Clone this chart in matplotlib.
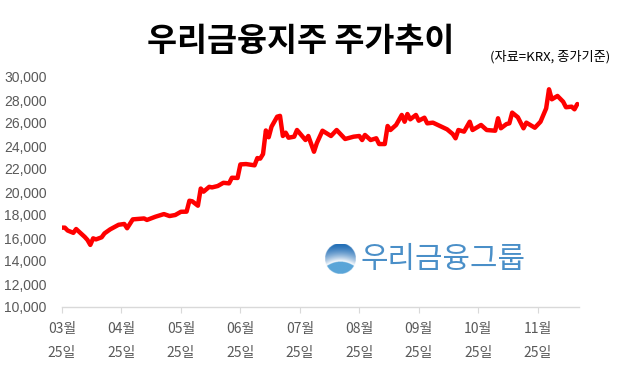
import numpy as np
import matplotlib
matplotlib.use("Agg")
import matplotlib.pyplot as plt
from matplotlib.colors import to_rgb

# trading-day index (from 03/25) and closing price
days = [0, 1, 2, 4, 5, 6, 8, 9, 10, 11, 12, 14, 15, 17, 20, 22, 23, 25, 29, 30,
        33, 36, 38, 40, 42, 44, 45, 46, 48, 49, 50, 52, 53, 55, 57, 59, 60, 62, 63, 65,
        68, 69, 70, 71, 72, 73, 74, 76, 77, 78, 79, 80, 82, 83, 86, 87, 89, 90, 92, 95,
        97, 100, 103, 105, 106, 107, 109, 111, 112, 114, 115, 116, 118, 120, 121, 122, 123, 125, 126, 128,
        129, 131, 136, 138, 139, 140, 142, 144, 145, 148, 150, 153, 154, 155, 157, 158, 159, 161, 163, 164,
        167, 169, 171, 172, 173, 175, 177, 178, 180, 181, 182]
close = [16900, 16900, 16650, 16450, 16780, 16550, 16100, 15830, 15400, 15970, 15880, 16060, 16400, 16750, 17150, 17220, 16850, 17620, 17700, 17570,
         17850, 18080, 17910, 18000, 18280, 18290, 19240, 19190, 18810, 20300, 20030, 20450, 20400, 20520, 20800, 20750, 21240, 21220, 22400, 22430,
         22320, 22950, 22900, 23300, 25350, 24760, 25680, 26550, 26620, 24870, 25160, 24720, 24810, 25390, 24520, 24870, 23500, 24250, 25330, 24870,
         25390, 24610, 24810, 24870, 24520, 24960, 24520, 24670, 24170, 24170, 25740, 25390, 25830, 26700, 26110, 26780, 26320, 26700, 26200, 26460,
         25970, 26030, 25450, 25040, 24670, 25390, 25250, 26110, 25390, 25830, 25390, 25330, 26410, 25540, 25910, 25970, 26900, 26500, 25540, 26030,
         25590, 26110, 27270, 28930, 28060, 28350, 27850, 27370, 27420, 27190, 27650]

tick_days = [0, 21, 42, 63, 84, 105, 126, 147, 168]
tick_labels = ["03월\n25일", "04월\n25일", "05월\n25일", "06월\n25일", "07월\n25일",
               "08월\n25일", "09월\n25일", "10월\n25일", "11월\n25일"]
y_ticks = list(range(10000, 30001, 2000))

W, H = 626, 372
fig = plt.figure(figsize=(W / 100, H / 100), dpi=100)
fig.patch.set_facecolor("white")
kr = ["Noto Sans CJK KR", "DejaVu Sans"]

ax = fig.add_axes([62 / W, 1 - 307 / H, (579 - 62) / W, (307 - 77) / H])
ax.plot(days, close, color="#ff0000", linewidth=3.2, solid_joinstyle="round",
        solid_capstyle="round", zorder=3)
ax.set_xlim(0, 182.6)
ax.set_ylim(10000, 30000)
ax.set_yticks(y_ticks)
ax.set_yticklabels([f"{v:,}" for v in y_ticks], family="Liberation Sans",
                   fontsize=10, color="#595959")
ax.set_xticks(tick_days)
ax.set_xticklabels(tick_labels, family=kr, fontsize=10, color="#595959")
for t in ax.get_xticklabels():
    t.set_linespacing(1.85)
ax.tick_params(axis="y", length=0, pad=11)
ax.tick_params(axis="x", length=4, width=0.8, color="#d9d9d9", pad=7)
for s in ["top", "right", "left"]:
    ax.spines[s].set_visible(False)
ax.spines["bottom"].set_color("#d9d9d9")
ax.spines["bottom"].set_linewidth(1.0)
ax.patch.set_alpha(0)

# title and source note
fig.text(301 / W, 1 - 42 / H, "우리금융지주 주가추이", ha="center", va="center",
         fontsize=23.5, fontweight="bold", family=kr)
fig.text(610 / W, 1 - 57 / H, "(자료=KRX, 종가기준)", ha="right", va="center",
         fontsize=9.5, family=kr)

# logo: round emblem + wordmark
n = 120
u, v = np.meshgrid(np.linspace(-1, 1, n), np.linspace(1, -1, n))
inside = u ** 2 + v ** 2 <= 1
hill = -0.2 - 0.35 * u ** 2
top_c, bot_c = np.array(to_rgb("#1f6cb5")), np.array(to_rgb("#5aa5d8"))
img = np.ones((n, n, 4))
frac = np.clip((1 - v) / (1 - hill), 0, 1)[..., None] ** 1.6
img[..., :3] = top_c * (1 - frac) + np.ones(3) * frac
img[v < hill, :3] = bot_c
img[..., 3] = inside
iax = fig.add_axes([325 / W, 1 - 275 / H, 31 / W, 32 / H])
iax.imshow(img, extent=(-1, 1, -1, 1), interpolation="bilinear")
iax.axis("off")
fig.text(361 / W, 1 - 260 / H, "우리금융그룹", ha="left", va="center",
         fontsize=21.5, fontweight="medium", color="#4a8fc8", family=kr)

fig.savefig("out.png", dpi=100)
